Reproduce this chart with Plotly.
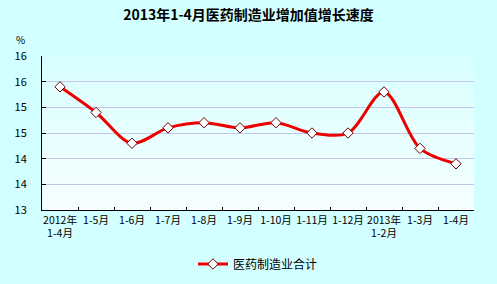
import plotly.graph_objects as go

categories = ["2012年<br>1-4月", "1-5月", "1-6月", "1-7月", "1-8月", "1-9月",
              "1-10月", "1-11月", "1-12月", "2013年<br>1-2月", "1-3月", "1-4月"]
values = [15.4, 14.9, 14.3, 14.6, 14.7, 14.6, 14.7, 14.5, 14.5, 15.3, 14.2, 13.9]
series_name = "医药制造业合计"
title_text = "2013年1-4月医药制造业增加值增长速度"

FONT = "Noto Sans CJK SC, SimSun, sans-serif"

fig = go.Figure()
fig.add_trace(go.Scatter(
    x=categories, y=values, name=series_name,
    mode="lines+markers",
    line=dict(color="#ee0000", width=3, shape="spline", smoothing=0.9),
    marker=dict(symbol="diamond", size=8, color="white",
                line=dict(color="#700000", width=1)),
))

# vertical gradient in plot area
n = 24
top = (0xd8, 0xff, 0xff)
bot = (0xf6, 0xff, 0xff)
shapes = []
for i in range(n):
    t = i / (n - 1)
    c = tuple(int(round(top[k] + (bot[k] - top[k]) * t)) for k in range(3))
    shapes.append(dict(type="rect", xref="paper", yref="paper",
                       x0=0, x1=1, y0=1 - (i + 1) / n, y1=1 - i / n,
                       fillcolor="rgb(%d,%d,%d)" % c, line=dict(width=0),
                       layer="below"))

fig.update_layout(
    width=497, height=284,
    margin=dict(l=42, r=23, t=56, b=74),
    paper_bgcolor="#d2ffff",
    plot_bgcolor="#e8ffff",
    font=dict(family=FONT, size=11, color="black"),
    title=dict(text="<b>" + title_text + "</b>", x=0.5, xanchor="center",
               y=1 - 15 / 284, yanchor="middle",
               font=dict(size=14, family=FONT, color="black")),
    shapes=shapes,
    showlegend=True,
    legend=dict(orientation="h", x=0.5, xanchor="center",
                yref="container", y=1 - 264 / 284, yanchor="middle",
                bgcolor="rgba(0,0,0,0)", font=dict(size=12, family=FONT),
                itemwidth=30),
    xaxis=dict(type="category", tickson="boundaries", ticks="inside",
               range=[-0.5, len(categories) - 0.5],
               ticklen=3, tickcolor="black", showline=True, linecolor="black",
               linewidth=1, showgrid=False, tickangle=0, automargin=False,
               tickfont=dict(size=10.5, family=FONT), fixedrange=True),
    yaxis=dict(range=[13, 16], dtick=0.5, tick0=13, tickformat=".0f",
               ticks="inside", ticklen=4, tickcolor="black",
               showline=True, linecolor="black", linewidth=1,
               showgrid=True, gridcolor="#c4c4ec", gridwidth=1,
               zeroline=False, ticklabelstandoff=12, automargin=False,
               tickfont=dict(size=11, family=FONT), fixedrange=True),
    annotations=[dict(text="%", xref="paper", yref="paper",
                      x=(20 - 42) / 432, y=(210 - 40) / 154,
                      showarrow=False, font=dict(size=10, family=FONT),
                      xanchor="center", yanchor="middle")],
)

fig.write_html("out.html")
